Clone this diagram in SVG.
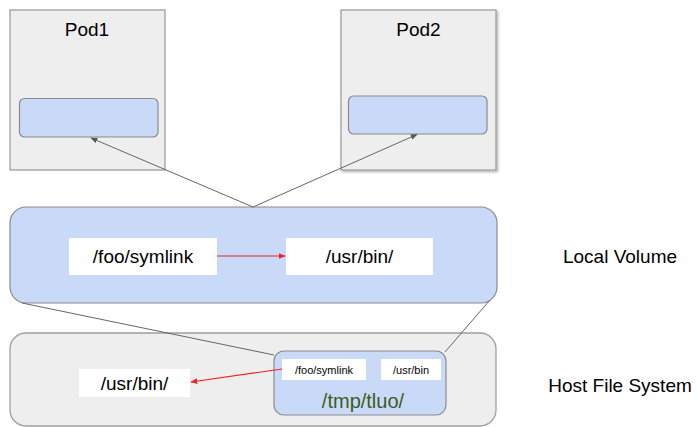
<svg xmlns="http://www.w3.org/2000/svg" width="697" height="427" viewBox="0 0 697 427">
<style>
text{font-family:"Liberation Sans",Arial,sans-serif;fill:#000}
.pod{fill:#eeeeee;stroke:#9e9e9e;stroke-width:1.3}
.inner{fill:#c9daf8;stroke:#8a8a8a;stroke-width:1.2}
.wb{fill:#ffffff}
.conn{stroke:#666666;stroke-width:1;fill:none}
.red{stroke:#ee2222;stroke-width:1.2;fill:none}
.lbl{font-size:19px}
.sm{font-size:11px}
</style>
<defs>
<marker id="ag" viewBox="0 0 10 10" refX="9" refY="5" markerWidth="7" markerHeight="7" orient="auto" markerUnits="userSpaceOnUse"><path d="M0,1 L10,5 L0,9 z" fill="#555555"/></marker>
<marker id="ar" viewBox="0 0 10 10" refX="9" refY="5" markerWidth="7" markerHeight="7" orient="auto" markerUnits="userSpaceOnUse"><path d="M0,1 L10,5 L0,9 z" fill="#ee2222"/></marker>
<filter id="sh" x="-5%" y="-5%" width="115%" height="115%"><feDropShadow dx="1.5" dy="1.5" stdDeviation="1" flood-color="#000" flood-opacity="0.3"/></filter>
</defs>
<g id="pod1">
<rect class="pod" x="10" y="10" width="155" height="160"/>
<text class="lbl" x="87" y="36" text-anchor="middle">Pod1</text>
<rect class="inner" x="19.5" y="98.5" width="138.5" height="38.5" rx="5"/>
</g>
<g id="pod2">
<rect class="pod" x="341" y="10" width="155" height="160" filter="url(#sh)"/>
<text class="lbl" x="418.5" y="36" text-anchor="middle">Pod2</text>
<rect class="inner" x="348.5" y="96" width="138.5" height="38" rx="5"/>
</g>
<g id="local-volume">
<rect class="inner" x="10" y="207" width="487" height="96" rx="16"/>
<rect class="wb" x="69" y="238" width="148" height="37"/>
<text class="lbl" x="143" y="263" text-anchor="middle">/foo/symlink</text>
<rect class="wb" x="286" y="238" width="147" height="37"/>
<text class="lbl" x="359.5" y="263" text-anchor="middle">/usr/bin/</text>
</g>
<g id="host-fs">
<rect class="pod" x="10" y="333" width="486" height="93" rx="16"/>
<rect class="wb" x="79" y="369" width="111" height="28"/>
<text class="lbl" x="134.5" y="390" text-anchor="middle">/usr/bin/</text>
</g>
<g id="tmp-tluo">
<rect class="inner" x="274" y="351" width="172" height="64" rx="10"/>
<rect class="wb" x="282" y="359" width="84" height="21"/>
<text class="sm" x="324" y="373.5" text-anchor="middle">/foo/symlink</text>
<rect class="wb" x="381" y="359" width="60" height="21"/>
<text class="sm" x="411" y="373.5" text-anchor="middle">/usr/bin</text>
<text x="363" y="408" font-size="20" text-anchor="middle" style="fill:#3d5c1d">/tmp/tluo/</text>
</g>
<g id="labels">
<text class="lbl" x="620" y="263" text-anchor="middle">Local Volume</text>
<text class="lbl" x="620" y="392" text-anchor="middle">Host File System</text>
</g>
<g id="connectors">
<line class="conn" x1="253" y1="207" x2="91" y2="138" marker-end="url(#ag)"/>
<line class="conn" x1="253" y1="207" x2="417" y2="134.5" marker-end="url(#ag)"/>
<line class="conn" x1="22" y1="303" x2="274" y2="355"/>
<line class="conn" x1="490" y1="300" x2="445" y2="352"/>
<line class="red" x1="217" y1="256" x2="285" y2="256" marker-end="url(#ar)"/>
<line class="red" x1="282" y1="369" x2="191" y2="382" marker-end="url(#ar)"/>
</g>
</svg>
